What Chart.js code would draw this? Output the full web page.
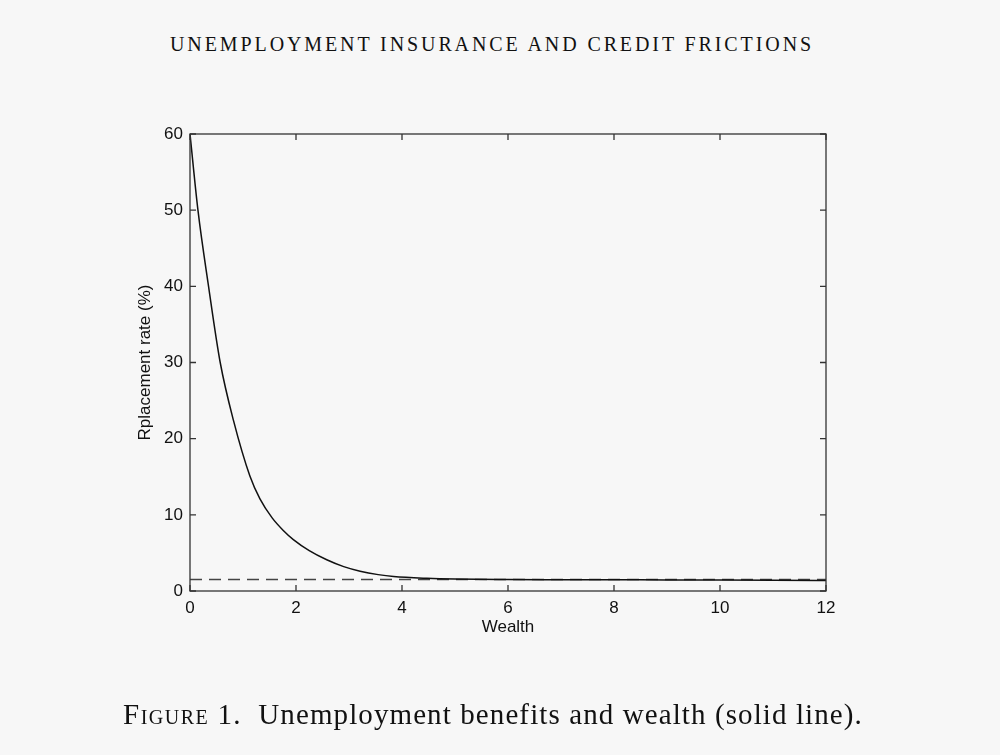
<!DOCTYPE html>
<html>
<head>
<meta charset="utf-8">
<script src="https://cdn.jsdelivr.net/npm/chart.js@4/dist/chart.umd.min.js"></script>
<style>
    html, body { margin: 0; padding: 0; background: #f7f7f7; }
    .page { position: relative; width: 1000px; height: 755px; overflow: hidden; }
    .head {
        position: absolute; top: 33px; left: 0; width: 984px; text-align: center;
        font-family: "Liberation Serif", "DejaVu Serif", serif; font-size: 20px;
        letter-spacing: 2.9px; color: #111;
    }
    .caption {
        position: absolute; top: 698px; left: 0; width: 986px; text-align: center;
        font-family: "Liberation Serif", "DejaVu Serif", serif; font-size: 29px;
        letter-spacing: 1.1px; color: #111;
    }
    .caption .sc { font-variant: small-caps; letter-spacing: 1.5px; }
    #chart { position: absolute; left: 0; top: 0; }
</style>
</head>
<body>
<div class="page">
    <div class="head">UNEMPLOYMENT INSURANCE AND CREDIT FRICTIONS</div>
    <canvas id="chart" width="1000" height="755"></canvas>
    <div class="caption"><span class="sc">Figure</span> 1.&nbsp; Unemployment benefits and wealth (solid line).</div>
</div>
<script>
// values
const wealth = [0, 0.15, 0.35, 0.57, 0.82, 1.13, 1.32, 1.55, 1.76, 1.95, 2.25, 2.58, 2.9, 3.21, 3.55, 3.84, 4.47, 5, 6, 7, 8, 9, 10, 11, 12];
const replacementRate = [60, 50, 40, 30, 22.4, 15.1, 12.1, 9.6, 7.95, 6.75, 5.3, 4.1, 3.2, 2.6, 2.15, 1.9, 1.66, 1.56, 1.5, 1.48, 1.47, 1.46, 1.45, 1.42, 1.38];
const baseRate = 1.5;
const xTicks = [0, 2, 4, 6, 8, 10, 12];
const yTicks = [0, 10, 20, 30, 40, 50, 60];

const curve = wealth.map((w, i) => ({ x: w, y: replacementRate[i] }));
const flat = [{ x: xTicks[0], y: baseRate }, { x: xTicks[xTicks.length - 1], y: baseRate }];

// MATLAB style box with inward ticks
const boxTicks = {
    id: 'boxTicks',
    afterDraw(chart) {
        const { ctx, chartArea: a, scales: { x, y } } = chart;
        ctx.save();
        ctx.strokeStyle = '#333';
        ctx.lineWidth = 1.3;
        ctx.strokeRect(a.left, a.top, a.right - a.left, a.bottom - a.top);
        ctx.beginPath();
        xTicks.forEach(v => {
            const px = x.getPixelForValue(v);
            ctx.moveTo(px, a.bottom); ctx.lineTo(px, a.bottom - 6);
            ctx.moveTo(px, a.top); ctx.lineTo(px, a.top + 6);
        });
        yTicks.forEach(v => {
            const py = y.getPixelForValue(v);
            ctx.moveTo(a.left, py); ctx.lineTo(a.left + 6, py);
            ctx.moveTo(a.right, py); ctx.lineTo(a.right - 6, py);
        });
        ctx.stroke();
        ctx.restore();
    }
};

const tickFont = { family: '"Liberation Sans", Arial, sans-serif', size: 17 };

new Chart(document.getElementById('chart'), {
    type: 'line',
    data: {
        datasets: [{
            data: curve,
            borderColor: '#111',
            borderWidth: 1.5,
            pointRadius: 0,
            cubicInterpolationMode: 'monotone'
        }, {
            data: flat,
            borderColor: '#444',
            borderWidth: 1.5,
            borderDash: [12, 7],
            pointRadius: 0
        }]
    },
    options: {
        responsive: false,
        animation: false,
        layout: { padding: { left: 135, top: 134, right: 174, bottom: 117 } },
        plugins: { legend: { display: false }, tooltip: { enabled: false } },
        scales: {
            x: {
                type: 'linear',
                min: 0, max: 12,
                afterFit: s => { s.height = 47; },
                grid: { display: false, drawTicks: false },
                border: { display: false },
                ticks: { stepSize: 2, padding: 7, color: '#111', font: tickFont },
                title: { display: true, text: 'Wealth', color: '#111', font: tickFont, padding: 0 }
            },
            y: {
                min: 0, max: 60,
                afterFit: s => { s.width = 55; },
                grid: { display: false, drawTicks: false },
                border: { display: false },
                ticks: { stepSize: 10, padding: 7, color: '#111', font: tickFont },
                title: { display: true, text: 'Rplacement rate (%)', color: '#111', font: tickFont, padding: 0 }
            }
        }
    },
    plugins: [boxTicks]
});
</script>
</body>
</html>
